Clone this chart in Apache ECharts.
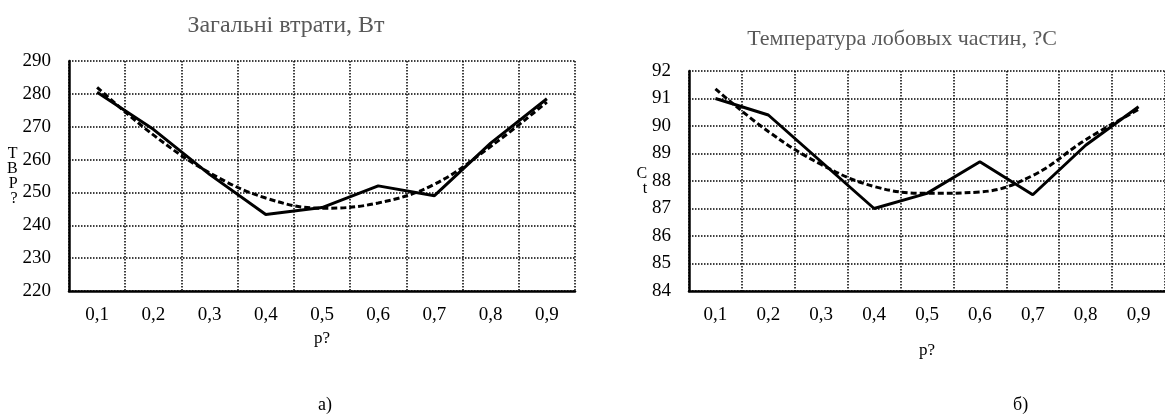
<!DOCTYPE html>
<html>
<head>
<meta charset="utf-8">
<script src="https://cdn.jsdelivr.net/npm/echarts@6/dist/echarts.min.js"></script>
<style>
  html, body { margin: 0; padding: 0; background: #fff; }
  #chart { width: 1165px; height: 416px; }
</style>
</head>
<body>
<div id="chart"></div>
<script>
window.onload = function(){
	var categories = ['0,1', '0,2', '0,3', '0,4', '0,5', '0,6', '0,7', '0,8', '0,9'];

	/* а) загальні втрати */
	var lossValues = [280.5, 269.2, 255.5, 243.3, 245.4, 252, 249, 265, 278.5];
	var lossTrend = [282, 267.5, 256, 248.3, 245.2, 246.8, 252.5, 264, 277.5];

	/* б) температура */
	var tempValues = [91.0, 90.4, 88.7, 87.0, 87.55, 88.7, 87.5, 89.3, 90.7];
	var tempTrend = [91.35, 89.8, 88.6, 87.8, 87.55, 87.6, 88.2, 89.5, 90.6];

	var serif = 'Liberation Serif';
	var myChart = echarts.init(document.getElementById('chart'));

	function xAx(idx, gap){
		return {
			type: 'category', gridIndex: idx, data: categories,
			boundaryGap: true,
			name: 'р?', nameLocation: 'middle', nameGap: gap,
			nameTextStyle: {fontFamily: serif, fontSize: 17, color: '#000'},
			axisLine: {lineStyle: {color: '#000', width: 2.5}},
			axisTick: {show: false},
			axisLabel: {fontFamily: serif, fontSize: 19, color: '#000', margin: 15, interval: 0},
			splitLine: {show: true, lineStyle: {color: '#000', type: 'dotted', width: 1.5}}
		};
	}
	function yAx(idx, min, max, name, gap){
		return {
			type: 'value', gridIndex: idx, min: min, max: max, interval: max > 100 ? 10 : 1,
			name: name, nameLocation: 'middle', nameRotate: 0, nameGap: gap,
			nameTextStyle: {fontFamily: serif, fontSize: 16, color: '#000', lineHeight: 15},
			axisLine: {show: true, lineStyle: {color: '#000', width: 2.5}},
			axisTick: {show: false},
			axisLabel: {fontFamily: serif, fontSize: 19, color: '#000', margin: 18},
			splitLine: {show: true, lineStyle: {color: '#000', type: 'dotted', width: 1.5}}
		};
	}

	var option = {
		animation: false,
		title: [
			{text: 'Загальні втрати, Вт', left: 281, top: 9, textAlign: 'center',
				textStyle: {fontFamily: serif, fontSize: 24, fontWeight: 'normal', color: '#595959'}},
			{text: 'Температура лобовых частин, ?С', left: 897, top: 23, textAlign: 'center',
				textStyle: {fontFamily: serif, fontSize: 22, fontWeight: 'normal', color: '#595959'}}
		],
		grid: [
			{left: 69, top: 61, width: 506, height: 230},
			{left: 689, top: 71, width: 485, height: 220}
		],
		xAxis: [xAx(0, 36), xAx(1, 51)],
		yAxis: [yAx(0, 220, 290, 'Т\nВ\nР\n?', 47), yAx(1, 84, 92, 'С\nt', 37)],
		series: [
			{type: 'line', xAxisIndex: 0, yAxisIndex: 0, data: lossValues, symbol: 'none',
				lineStyle: {color: '#000', width: 3}},
			{type: 'line', xAxisIndex: 0, yAxisIndex: 0, data: lossTrend, symbol: 'none', smooth: 0.4,
				lineStyle: {color: '#000', width: 3, type: [6, 3]}},
			{type: 'line', xAxisIndex: 1, yAxisIndex: 1, data: tempValues, symbol: 'none',
				lineStyle: {color: '#000', width: 3}},
			{type: 'line', xAxisIndex: 1, yAxisIndex: 1, data: tempTrend, symbol: 'none', smooth: 0.4,
				lineStyle: {color: '#000', width: 3, type: [6, 3]}}
		],
		graphic: [
			{type: 'text', left: 318, top: 396, style: {text: 'а)', font: '18px "Liberation Serif"', fill: '#000'}},
			{type: 'text', left: 1013, top: 396, style: {text: 'б)', font: '18px "Liberation Serif"', fill: '#000'}}
		]
	};
	myChart.setOption(option);
}
</script>
</body>
</html>
